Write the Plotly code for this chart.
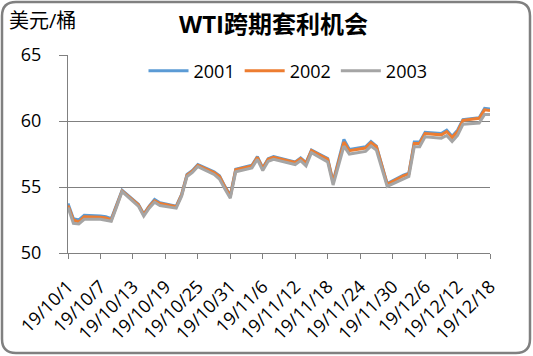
import plotly.graph_objects as go

dates = [
    "2019-10-01", "2019-10-02", "2019-10-03", "2019-10-04", "2019-10-07", "2019-10-08", "2019-10-09",
    "2019-10-10", "2019-10-11", "2019-10-14", "2019-10-15", "2019-10-16", "2019-10-17", "2019-10-18",
    "2019-10-21", "2019-10-22", "2019-10-23", "2019-10-24", "2019-10-25", "2019-10-28", "2019-10-29",
    "2019-10-30", "2019-10-31", "2019-11-01", "2019-11-04", "2019-11-05", "2019-11-06", "2019-11-07",
    "2019-11-08", "2019-11-11", "2019-11-12", "2019-11-13", "2019-11-14", "2019-11-15", "2019-11-18",
    "2019-11-19", "2019-11-20", "2019-11-21", "2019-11-22", "2019-11-25", "2019-11-26", "2019-11-27",
    "2019-11-29", "2019-12-02", "2019-12-03", "2019-12-04", "2019-12-05", "2019-12-06", "2019-12-09",
    "2019-12-10", "2019-12-11", "2019-12-12", "2019-12-13", "2019-12-16", "2019-12-17", "2019-12-18",
]

s2001 = [
    53.75, 52.6, 52.5, 52.85, 52.8, 52.75, 52.6, 53.7, 54.75, 53.7, 52.95, 53.55, 54.05, 53.8,
    53.55, 54.45, 55.95, 56.25, 56.7, 56.15, 55.85, 55.05, 54.35, 56.35, 56.65, 57.3, 56.45, 57.15,
    57.3, 57.0, 56.9, 57.2, 56.85, 57.8, 57.15, 55.4, 57.0, 58.6, 57.85, 58.05, 58.45, 58.1,
    55.25, 55.9, 56.05, 58.4, 58.4, 59.15, 59.05, 59.3, 58.85, 59.3, 60.1, 60.25, 60.95, 60.9,
]

s2002 = [
    53.6, 52.5, 52.35, 52.75, 52.7, 52.65, 52.5, 53.6, 54.7, 53.65, 52.9, 53.5, 53.95, 53.75,
    53.5, 54.4, 55.9, 56.2, 56.65, 56.1, 55.8, 55.0, 54.3, 56.3, 56.6, 57.25, 56.4, 57.1,
    57.25, 56.95, 56.85, 57.15, 56.8, 57.75, 57.1, 55.35, 56.9, 58.4, 57.75, 57.95, 58.35, 58.05,
    55.2, 55.85, 56.0, 58.3, 58.3, 59.05, 58.95, 59.2, 58.75, 59.2, 60.05, 60.2, 60.85, 60.8,
]

s2003 = [
    53.45, 52.25, 52.2, 52.55, 52.55, 52.5, 52.4, 53.5, 54.65, 53.55, 52.8, 53.4, 53.85, 53.6,
    53.4, 54.3, 55.8, 56.1, 56.55, 55.95, 55.6, 54.85, 54.15, 56.15, 56.45, 57.1, 56.25, 56.95,
    57.1, 56.8, 56.7, 57.0, 56.6, 57.6, 56.9, 55.15, 56.7, 58.1, 57.5, 57.7, 58.1, 57.8,
    55.05, 55.65, 55.8, 58.05, 58.05, 58.8, 58.7, 58.9, 58.45, 58.9, 59.75, 59.85, 60.5, 60.5,
]

series_names = ["2001", "2002", "2003"]
series_vals = [s2001, s2002, s2003]
colors = ["#5B9BD5", "#ED7D31", "#A5A5A5"]

title_text = "WTI跨期套利机会"
unit_text = "美元/桶"

W, H = 533, 356
L, R, T, B = 68, 43, 55, 103
PW, PH = W - L - R, H - T - B


def px(x):
    return (x - L) / PW


def py(y):
    return (H - B - y) / PH


FONT = "Open Sans, Noto Sans CJK SC, sans-serif"

fig = go.Figure()
for name, vals, c in zip(series_names, series_vals, colors):
    fig.add_trace(go.Scatter(x=dates, y=vals, name=name, mode="lines",
                             line=dict(color=c, width=3)))

# rounded border
x0, y0, x1, y1, r = 2, 2, 530, 353, 14
path = (
    f"M {px(x0 + r)} {py(y0)} L {px(x1 - r)} {py(y0)} "
    f"Q {px(x1)} {py(y0)} {px(x1)} {py(y0 + r)} "
    f"L {px(x1)} {py(y1 - r)} Q {px(x1)} {py(y1)} {px(x1 - r)} {py(y1)} "
    f"L {px(x0 + r)} {py(y1)} Q {px(x0)} {py(y1)} {px(x0)} {py(y1 - r)} "
    f"L {px(x0)} {py(y0 + r)} Q {px(x0)} {py(y0)} {px(x0 + r)} {py(y0)} Z"
)

fig.update_layout(
    width=W, height=H,
    margin=dict(l=L, r=R, t=T, b=B, autoexpand=False),
    paper_bgcolor="white", plot_bgcolor="white",
    font=dict(family=FONT, size=18, color="black"),
    showlegend=True,
    legend=dict(orientation="h", x=px(288), y=py(71), xanchor="center", yanchor="middle",
                font=dict(size=18), bgcolor="rgba(0,0,0,0)", itemwidth=40),
    shapes=[dict(type="path", path=path, xref="paper", yref="paper",
                 line=dict(color="#808080", width=2.5), layer="above")],
    annotations=[
        dict(text="<b>" + title_text + "</b>", xref="paper", yref="paper", x=px(273), y=py(23),
             xanchor="center", yanchor="middle", showarrow=False, font=dict(size=24)),
        dict(text=unit_text, xref="paper", yref="paper", x=px(7), y=py(20),
             xanchor="left", yanchor="middle", showarrow=False, font=dict(size=20)),
    ],
)

fig.update_xaxes(
    type="date", range=["2019-10-01", "2019-12-18"], automargin=False,
    tick0="2019-10-01", dtick=6 * 86400000, tickformat="%y/%-m/%-d",
    tickangle=-45, ticks="outside", ticklen=5, tickcolor="#808080",
    showline=True, linecolor="#808080", linewidth=1, showgrid=False,
    tickfont=dict(size=18), ticklabelstandoff=10,
)
fig.update_yaxes(
    range=[50, 65], dtick=5, ticks="outside", ticklen=8, tickcolor="#808080", automargin=False,
    showline=True, linecolor="#808080", linewidth=1,
    showgrid=True, gridcolor="#808080", gridwidth=1, zeroline=False,
    tickfont=dict(size=18), ticklabelstandoff=14,
)

fig.write_html("out.html", config={"displayModeBar": False},
               post_script="document.body.style.margin='0';")
